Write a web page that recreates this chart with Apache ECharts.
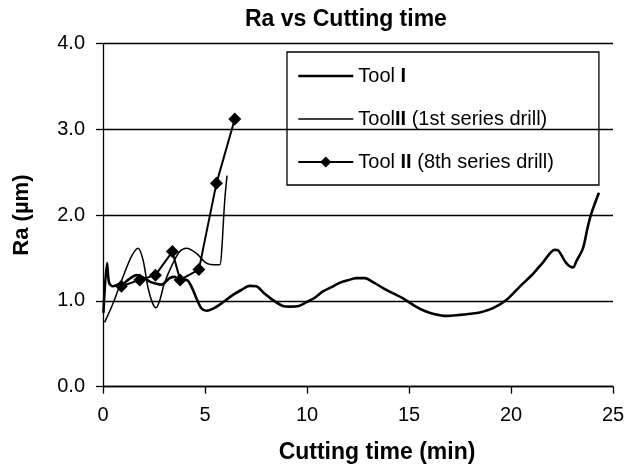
<!DOCTYPE html>
<html>
<head>
<meta charset="utf-8">
<script src="https://cdn.jsdelivr.net/npm/echarts@6/dist/echarts.min.js"></script>
<style>
  html, body { margin: 0; padding: 0; background: #fff; }
  #chart { width: 636px; height: 470px; }
</style>
</head>
<body>
<div id="chart"></div>
<script>
// Tool I
const tool1Time = [0.02, 0.2, 0.3, 0.49, 0.74, 1.0, 1.23, 1.64, 1.96, 2.29, 2.62, 2.86, 3.27, 3.51, 3.76, 4.09, 4.33, 4.58, 4.82, 5.07, 5.4, 5.8, 6.37, 6.8, 7.19, 7.52, 7.85, 8.33, 8.82, 9.15, 9.6, 9.97, 10.4, 10.78, 11.2, 11.6, 12.0, 12.42, 12.83, 13.3, 13.73, 14.2, 14.71, 15.36, 15.8, 16.18, 16.83, 17.49, 18.0, 18.47, 19.12, 19.77, 20.43, 21.08, 21.57, 22.14, 22.3, 22.71, 23.04, 23.2, 23.53, 23.77, 23.94, 24.31];
const tool1Ra = [0.86, 1.44, 1.21, 1.17, 1.19, 1.2, 1.245, 1.30, 1.275, 1.225, 1.20, 1.19, 1.265, 1.28, 1.245, 1.245, 1.17, 1.03, 0.915, 0.885, 0.91, 0.97, 1.07, 1.13, 1.175, 1.17, 1.10, 1.01, 0.94, 0.933, 0.94, 0.985, 1.04, 1.11, 1.16, 1.21, 1.24, 1.265, 1.265, 1.21, 1.15, 1.09, 1.03, 0.93, 0.88, 0.85, 0.825, 0.837, 0.85, 0.865, 0.915, 1.01, 1.167, 1.315, 1.45, 1.595, 1.59, 1.44, 1.39, 1.46, 1.615, 1.87, 2.02, 2.26];
// Tool II, 1st series drill
const tool2aTime = [0.08, 0.49, 0.98, 1.39, 1.72, 1.96, 2.21, 2.42, 2.6, 2.8, 3.0, 3.43, 3.76, 4.09, 4.58, 5.07, 5.48, 5.72, 5.83, 5.88, 5.97, 6.08];
const tool2aRa = [0.75, 0.97, 1.28, 1.517, 1.615, 1.48, 1.15, 0.98, 0.92, 1.02, 1.2, 1.44, 1.575, 1.615, 1.555, 1.44, 1.42, 1.42, 1.63, 1.83, 2.18, 2.46];
// Tool II, 8th series drill
const tool2bTime = [0.9, 1.8, 2.57, 3.4, 3.78, 4.7, 5.56, 6.46];
const tool2bRa = [1.17, 1.245, 1.30, 1.575, 1.245, 1.365, 2.37, 3.12];

const seriesNames = ["Tool I", "ToolII (1st series drill)", "Tool II (8th series drill)"];
const legendRich = {
  "Tool I": "{n|Tool }{b|I}",
  "ToolII (1st series drill)": "{n|Tool}{b|II}{n| (1st series drill)}",
  "Tool II (8th series drill)": "{n|Tool }{b|II}{n| (8th series drill)}",
};
const xTicks = [0, 5, 10, 15, 20, 25];
const yTicks = [0, 1, 2, 3, 4];

const zip = (xs, ys) => xs.map((x, i) => [x, ys[i]]);
const font = "Liberation Sans, Arial, sans-serif";

const chart = echarts.init(document.getElementById("chart"));
const option = {
  animation: false,
  backgroundColor: "#fff",
  title: {
    text: "Ra vs Cutting time",
    left: 240,
    top: 3,
    textStyle: { fontFamily: font, fontSize: 23, fontWeight: "bold", color: "#000" },
  },
  legend: {
    orient: "vertical",
    left: 287,
    top: 52,
    data: [
      { name: seriesNames[0], itemStyle: { opacity: 0 }, lineStyle: { width: 2.6, color: "#000" } },
      { name: seriesNames[1], itemStyle: { opacity: 0 }, lineStyle: { width: 1.3, color: "#000" } },
      { name: seriesNames[2], lineStyle: { width: 1.8, color: "#000" } },
    ],
    itemWidth: 55,
    itemHeight: 14,
    itemGap: 23,
    padding: [14, 45, 13, 10],
    borderColor: "#000",
    borderWidth: 1.3,
    formatter: (name) => legendRich[name],
    textStyle: {
      fontFamily: font,
      fontSize: 20,
      color: "#000",
      rich: {
        n: { fontFamily: font, fontSize: 20, color: "#000" },
        b: { fontFamily: font, fontSize: 20, fontWeight: "bold", color: "#000" },
      },
    },
  },
  grid: { left: 103, right: 23, top: 43.5, bottom: 83.3 },
  xAxis: {
    type: "value",
    min: xTicks[0],
    max: xTicks[xTicks.length - 1],
    interval: 5,
    name: "Cutting time (min)",
    nameLocation: "middle",
    nameGap: 54,
    nameTextStyle: { fontFamily: font, fontSize: 23, fontWeight: "bold", color: "#000", padding: [0, 0, 0, 38] },
    axisLine: { lineStyle: { color: "#000", width: 1.3 } },
    axisTick: { show: true, inside: false, length: 7, lineStyle: { color: "#000", width: 1.3 } },
    axisLabel: { margin: 19, fontFamily: font, fontSize: 20, color: "#000" },
    splitLine: { show: false },
  },
  yAxis: {
    type: "value",
    min: yTicks[0],
    max: yTicks[yTicks.length - 1],
    interval: 1,
    name: "Ra (µm)",
    nameLocation: "middle",
    nameGap: 70,
    nameTextStyle: { fontFamily: font, fontSize: 22, fontWeight: "bold", color: "#000" },
    axisLine: { show: true, lineStyle: { color: "#000", width: 1.3 } },
    axisTick: { show: true, inside: false, length: 7, lineStyle: { color: "#000", width: 1.3 } },
    axisLabel: { margin: 18, fontFamily: font, fontSize: 20, color: "#000", formatter: (v) => v.toFixed(1) },
    splitLine: { show: true, lineStyle: { color: "#000", width: 1.3 } },
  },
  series: [
    {
      name: seriesNames[0],
      type: "line",
      data: zip(tool1Time, tool1Ra),
      smooth: 0.3,
      showSymbol: false,
      symbol: "none",
      lineStyle: { color: "#000", width: 2.6 },
      itemStyle: { color: "#000" },
      z: 3,
    },
    {
      name: seriesNames[1],
      type: "line",
      data: zip(tool2aTime, tool2aRa),
      smooth: 0.3,
      showSymbol: false,
      symbol: "none",
      lineStyle: { color: "#000", width: 1.5 },
      itemStyle: { color: "#000" },
      z: 2,
    },
    {
      name: seriesNames[2],
      type: "line",
      data: zip(tool2bTime, tool2bRa),
      symbol: "diamond",
      symbolSize: 13,
      lineStyle: { color: "#000", width: 2 },
      itemStyle: { color: "#000" },
      z: 4,
    },
  ],
};
chart.setOption(option);
</script>
</body>
</html>
